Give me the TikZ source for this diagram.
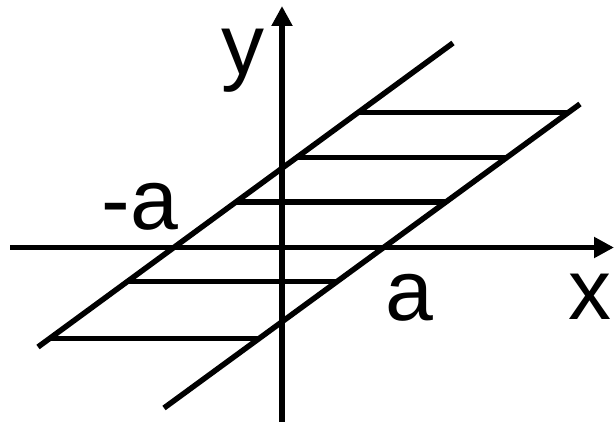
\documentclass[tikz,border=0pt]{standalone}
\usepackage{fontspec}
\setmainfont{Liberation Sans}
\usetikzlibrary{arrows.meta}
\begin{document}
\begin{tikzpicture}[x=1pt,y=-1pt,
  ln/.style={line width=5.5pt},
  axisline/.style={ln,-{Triangle[length=20pt,width=20pt]}},
  lbl/.style={inner sep=0pt,anchor=base,font=\fontsize{86}{86}\selectfont}]
\useasboundingbox (0,0) rectangle (615,422);
% axes
\coordinate (xs) at (10,247.5);
\coordinate (xe) at (614,247.5);
\coordinate (ys) at (282,422);
\coordinate (ye) at (282,6);
\draw[axisline] (xs) -- (xe);
\draw[axisline] (ys) -- (ye);
% diagonals
\coordinate (l1) at (38,347);
\coordinate (l2) at (453,43);
\coordinate (r1) at (164,408);
\coordinate (r2) at (580,104);
\draw[ln] (l1) -- (l2);
\draw[ln] (r1) -- (r2);
% horizontal segments
\coordinate (h1a) at (357,112.3);  \coordinate (h1b) at (568,112.3);
\coordinate (h2a) at (296.4,157.7); \coordinate (h2b) at (506.5,157.7);
\coordinate (h3a) at (235.9,202);  \coordinate (h3b) at (445.9,202);
\coordinate (h4a) at (127.1,281.7); \coordinate (h4b) at (336.8,281.7);
\coordinate (h5a) at (49.3,338.7);  \coordinate (h5b) at (258.2,338.7);
\draw[ln] (h1a) -- (h1b);
\draw[ln] (h2a) -- (h2b);
\draw[ln] (h3a) -- (h3b);
\draw[ln] (h4a) -- (h4b);
\draw[ln] (h5a) -- (h5b);
% labels
\node[lbl] (ylab) at (243,74.6) {y};
\node[lbl] (xlab) at (590,319) {x};
\node[lbl] (alab) at (409.5,320) {a};
\node[lbl] (malab) at (139.8,229) {-a};
\end{tikzpicture}
\end{document}
